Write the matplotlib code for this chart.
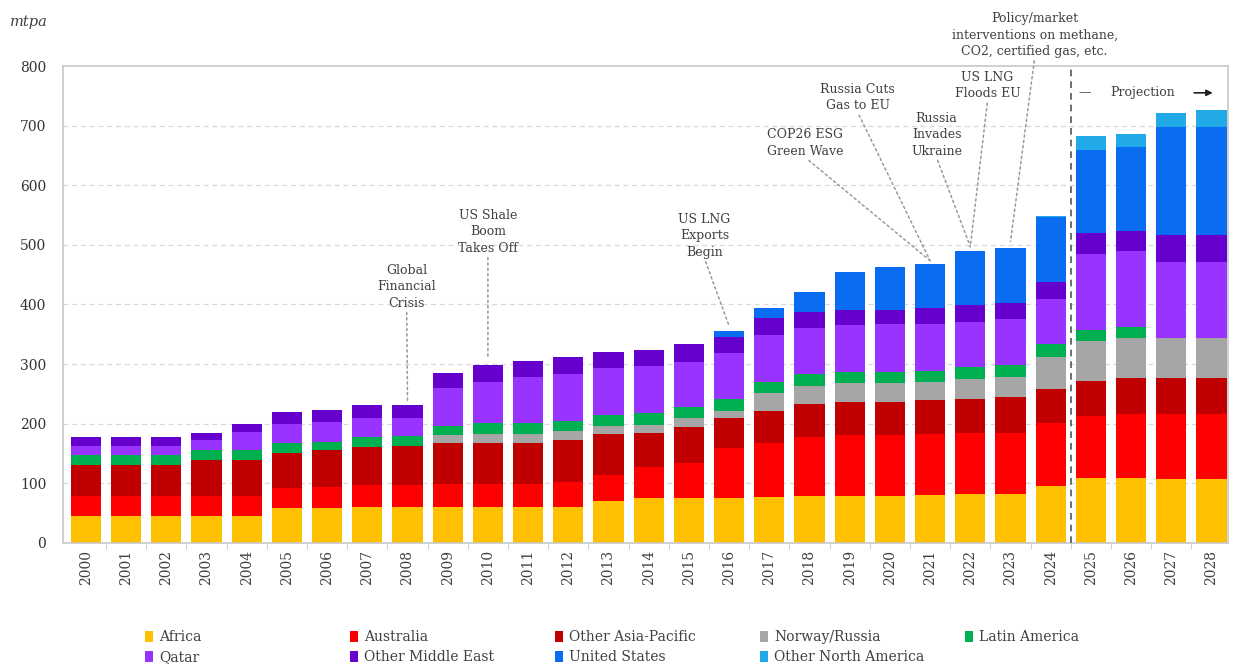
import matplotlib
matplotlib.use("Agg")
import matplotlib.pyplot as plt
import numpy as np

years = [str(y) for y in range(2000, 2029)]

africa = [46, 46, 46, 46, 46, 58, 58, 61, 61, 61, 61, 61, 61, 70.5, 76, 76, 76, 77, 78, 79, 79, 80.5, 83, 83, 95.5, 108.5, 108.5, 107, 107]
australia = [32, 32, 32, 32, 32, 34, 36.5, 36, 36, 37.5, 37.5, 37.5, 42, 43.5, 52, 57.5, 83, 90, 100, 102, 102, 102.5, 101, 101, 105, 104.5, 108, 109.5, 109.5]
other_asia_pacific = [53, 53, 53, 62, 62, 59.5, 61.5, 64.5, 66, 68.5, 68.5, 68.5, 70, 69, 57, 61.5, 50, 55, 55, 56, 56, 57, 57.5, 61.5, 58.5, 59.5, 59.5, 59.5, 59.5]
norway_russia = [0, 0, 0, 0, 0, 0, 0, 0, 0, 14, 16, 16, 14, 13, 13, 14, 13, 29, 30.5, 32, 32, 30.5, 33, 32.5, 53, 67, 67.5, 67.5, 67.5]
latin_america = [17, 17, 17, 16, 16, 16.5, 14, 16.5, 16.5, 15, 18, 18, 18, 19, 19.5, 18.5, 19.5, 19.5, 19.5, 18.5, 18.5, 18.5, 20, 20.5, 21, 18, 19.5, 0, 0]
qatar = [15, 15, 15, 16, 30, 32, 32.5, 31, 29.5, 63.5, 69.5, 77, 78.5, 78, 79.5, 76.5, 76.5, 78.5, 77, 78.5, 80, 78.5, 76.5, 76.5, 77, 127.5, 127, 128.5, 128.5]
other_middle_east = [15, 15, 15, 13, 13, 19, 20.5, 22.5, 22, 26, 28, 28, 28.5, 28, 27, 29.5, 28, 28, 28, 25, 23.5, 26.5, 28.5, 28, 27, 34.5, 34, 45, 45]
united_states = [0] * 16 + [10, 16.5, 32.5, 63, 71.5, 74.5, 89.5, 92.5, 109, 140, 140, 181.5, 181.5]
other_north_america = [0] * 24 + [2, 22.5, 22, 23.5, 28]

series = [
    ("Africa", africa, "#FFC000"),
    ("Australia", australia, "#FF0000"),
    ("Other Asia-Pacific", other_asia_pacific, "#C00000"),
    ("Norway/Russia", norway_russia, "#A6A6A6"),
    ("Latin America", latin_america, "#00B050"),
    ("Qatar", qatar, "#9933FF"),
    ("Other Middle East", other_middle_east, "#6600CC"),
    ("United States", united_states, "#0A6CF0"),
    ("Other North America", other_north_america, "#22AAE8"),
]

# (text, index of the bar it points to, text x, text y, gap above bar)
events = [
    ("Global\nFinancial\nCrisis", 8, 7.98, 430, 8),
    ("US Shale\nBoom\nTakes Off", 10, 10.0, 522, 13),
    ("US LNG\nExports\nBegin", 16, 15.39, 515, 8),
    ("COP26 ESG\nGreen Wave", 21, 17.9, 671, 5),
    ("Russia Cuts\nGas to EU", 21, 19.2, 747, 5),
    ("Russia\nInvades\nUkraine", 22, 21.16, 685, 8),
    ("US LNG\nFloods EU", 22, 22.43, 767, 8),
    ("Policy/market\ninterventions on methane,\nCO2, certified gas, etc.", 23, 23.6, 852, 10),
]

SERIF = ["DejaVu Serif"]
TXT = "#404040"

fig = plt.figure(figsize=(12.35, 6.66), dpi=100)
ax = fig.add_axes([0.051, 0.1847, 0.943, 0.7162])

x = np.arange(len(years))
bottom = np.zeros(len(years))
handles = []
for name, vals, color in series:
    vals = np.array(vals, dtype=float)
    h = ax.bar(x, vals, width=0.75, bottom=bottom, color=color, label=name, zorder=2)
    handles.append(h)
    bottom += vals
totals = bottom

ax.set_xlim(-0.57, 28.4)
ax.set_ylim(0, 800)
ax.set_yticks(range(0, 801, 100))
for v in range(100, 800, 100):
    ax.axhline(v, color="#d8d8d8", lw=0.9, ls=(0, (4, 3)), zorder=1)

ax.set_xticks(x)
ax.set_xticklabels(years, rotation=90, family=SERIF, fontsize=10, color=TXT)
ax.set_xticks(x[:-1] + 0.5, minor=True)
ax.tick_params(axis="x", which="major", length=0, pad=5)
ax.tick_params(axis="x", which="minor", length=4, color="#c8c8c8")
ax.tick_params(axis="y", length=0, pad=12, labelsize=10, labelcolor="#333333")
for lab in ax.get_yticklabels():
    lab.set_family(SERIF)
for s in ax.spines.values():
    s.set_color("#c8c8c8")
    s.set_linewidth(1.2)

# projection divider
ax.axvline(24.5, color="#555555", lw=1.2, ls=(0, (4, 3)), zorder=3)
ax.text(24.84, 755, "\u2014", ha="center", va="center", family=SERIF, fontsize=9, color=TXT)
ax.text(26.29, 755, "Projection", ha="center", va="center", family=SERIF, fontsize=9, color=TXT)
ax.annotate("", xy=(28.1, 755), xytext=(27.5, 755),
            arrowprops=dict(arrowstyle="-|>", color="#222222", lw=1.2, mutation_scale=9))

for text, idx, tx, ty, gap in events:
    ax.annotate(text, xy=(idx, totals[idx] + gap), xytext=(tx, ty),
                ha="center", va="center", family=SERIF, fontsize=9, color=TXT,
                linespacing=1.35, annotation_clip=False,
                arrowprops=dict(arrowstyle="-", color="#999999", lw=1.1,
                                ls=(0, (1.5, 2)), shrinkA=0, shrinkB=0,
                                relpos=(0.5, 0)))

fig.text(0.008, 0.967, "mtpa", style="italic", family=SERIF, fontsize=10.5, color=TXT,
         ha="left", va="center")

# legend laid out as five fixed columns, two rows
col_x = [0.1174, 0.2834, 0.4494, 0.6154, 0.7814]
cols = [[0, 5], [1, 6], [2, 7], [3, 8], [4]]
for cx, idxs in zip(col_x, cols):
    fig.legend([handles[i] for i in idxs], [series[i][0] for i in idxs],
               loc="upper left", bbox_to_anchor=(cx, 0.054), bbox_transform=fig.transFigure,
               frameon=False, handlelength=0.6, handleheight=0.8, handletextpad=0.4,
               labelspacing=0.45, borderaxespad=0, borderpad=0,
               prop={"family": "DejaVu Serif", "size": 10}, labelcolor=TXT)

fig.savefig("out.png", dpi=100)
